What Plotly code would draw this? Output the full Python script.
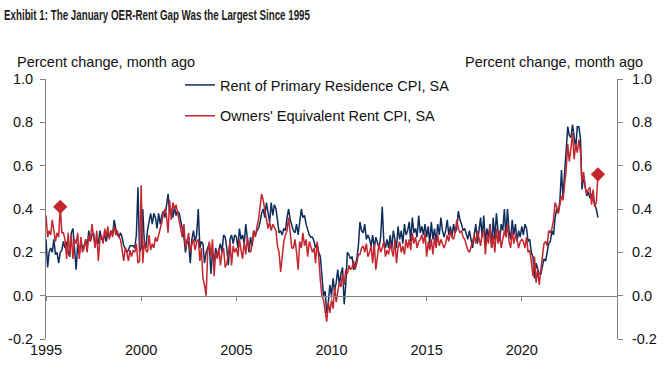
import plotly.graph_objects as go
import pandas as pd

# Monthly % change, Jan 1995 .. Jan 2024
rent = [
    0.26, 0.13, 0.20, 0.22, 0.20, 0.26, 0.19, 0.20, 0.15, 0.20, 0.21, 0.25,  # 1995
    0.22, 0.25, 0.20, 0.18, 0.29, 0.31, 0.22, 0.12, 0.24, 0.19, 0.25, 0.22,  # 1996
    0.23, 0.26, 0.22, 0.30, 0.25, 0.28, 0.29, 0.23, 0.26, 0.24, 0.30, 0.26,  # 1997
    0.26, 0.28, 0.25, 0.29, 0.27, 0.30, 0.28, 0.35, 0.31, 0.28, 0.27, 0.29,  # 1998
    0.27, 0.23, 0.22, 0.20, 0.21, 0.23, 0.23, 0.23, 0.22, 0.28, 0.50, 0.20,  # 1999
    0.22, 0.40, 0.25, 0.22, 0.30, 0.35, 0.38, 0.33, 0.38, 0.36, 0.31, 0.38,  # 2000
    0.33, 0.37, 0.39, 0.36, 0.42, 0.47, 0.38, 0.40, 0.36, 0.41, 0.37, 0.39,  # 2001
    0.38, 0.34, 0.30, 0.27, 0.20, 0.26, 0.24, 0.15, 0.26, 0.30, 0.25, 0.28,  # 2002
    0.40, 0.22, 0.25, 0.24, 0.15, 0.20, 0.22, 0.24, 0.10, 0.20, 0.15, 0.22,  # 2003
    0.18, 0.22, 0.24, 0.20, 0.28, 0.27, 0.22, 0.14, 0.26, 0.28, 0.24, 0.28,  # 2004
    0.27, 0.22, 0.31, 0.26, 0.28, 0.24, 0.33, 0.26, 0.20, 0.27, 0.23, 0.30,  # 2005
    0.28, 0.30, 0.31, 0.34, 0.38, 0.40, 0.36, 0.43, 0.38, 0.34, 0.43, 0.37,  # 2006
    0.42, 0.40, 0.35, 0.29, 0.30, 0.28, 0.31, 0.30, 0.36, 0.40, 0.35, 0.33,  # 2007
    0.30, 0.29, 0.33, 0.28, 0.35, 0.40, 0.36, 0.37, 0.33, 0.30, 0.28, 0.27,  # 2008
    0.27, 0.25, 0.22, 0.24, 0.20, 0.18, 0.08, 0.00, 0.02, -0.08, -0.03, 0.05,  # 2009
    0.00, 0.08, 0.02, 0.06, 0.12, 0.05, 0.10, 0.13, -0.04, 0.05, 0.20, 0.19,  # 2010
    0.17, 0.18, 0.12, 0.14, 0.17, 0.23, 0.34, 0.30, 0.29, 0.33, 0.26, 0.28,  # 2011
    0.26, 0.23, 0.28, 0.22, 0.27, 0.24, 0.22, 0.27, 0.41, 0.25, 0.22, 0.26,  # 2012
    0.22, 0.28, 0.21, 0.30, 0.25, 0.22, 0.32, 0.26, 0.30, 0.24, 0.33, 0.28,  # 2013
    0.30, 0.34, 0.25, 0.36, 0.29, 0.31, 0.27, 0.37, 0.29, 0.32, 0.28, 0.33,  # 2014
    0.27, 0.32, 0.24, 0.34, 0.26, 0.31, 0.24, 0.33, 0.28, 0.36, 0.30, 0.27,  # 2015
    0.30, 0.35, 0.28, 0.32, 0.27, 0.33, 0.29, 0.31, 0.39, 0.35, 0.33, 0.30,  # 2016
    0.31, 0.28, 0.26, 0.30, 0.25, 0.22, 0.28, 0.33, 0.24, 0.30, 0.36, 0.27,  # 2017
    0.37, 0.24, 0.31, 0.27, 0.33, 0.22, 0.36, 0.26, 0.38, 0.30, 0.25, 0.33,  # 2018
    0.30, 0.40, 0.27, 0.40, 0.30, 0.26, 0.35, 0.28, 0.33, 0.25, 0.30, 0.27,  # 2019
    0.32, 0.28, 0.33, 0.31, 0.25, 0.26, 0.20, 0.18, 0.08, 0.15, 0.12, 0.10,  # 2020
    0.10, 0.13, 0.17, 0.16, 0.20, 0.24, 0.25, 0.30, 0.28, 0.36, 0.40, 0.38,  # 2021
    0.44, 0.58, 0.45, 0.56, 0.63, 0.78, 0.74, 0.73, 0.79, 0.73, 0.68, 0.78,  # 2022
    0.78, 0.72, 0.49, 0.55, 0.50, 0.46, 0.48, 0.45, 0.47, 0.44, 0.42, 0.40,  # 2023
    0.36,                                                                    # 2024
]

oer = [
    0.37, 0.27, 0.30, 0.28, 0.35, 0.29, 0.25, 0.29, 0.27, 0.41, 0.29, 0.29,  # 1995
    0.26, 0.17, 0.29, 0.18, 0.28, 0.17, 0.26, 0.24, 0.29, 0.17, 0.27, 0.20,  # 1996
    0.22, 0.26, 0.20, 0.28, 0.25, 0.33, 0.27, 0.22, 0.30, 0.16, 0.26, 0.28,  # 1997
    0.24, 0.31, 0.27, 0.32, 0.26, 0.30, 0.27, 0.32, 0.28, 0.30, 0.27, 0.26,  # 1998
    0.21, 0.16, 0.22, 0.20, 0.16, 0.21, 0.18, 0.21, 0.20, 0.24, 0.15, 0.16,  # 1999
    0.51, 0.15, 0.25, 0.21, 0.20, 0.28, 0.21, 0.24, 0.22, 0.27, 0.25, 0.28,  # 2000
    0.30, 0.34, 0.38, 0.40, 0.37, 0.29, 0.44, 0.35, 0.43, 0.40, 0.42, 0.38,  # 2001
    0.35, 0.30, 0.27, 0.33, 0.22, 0.25, 0.29, 0.20, 0.24, 0.26, 0.21, 0.25,  # 2002
    0.26, 0.16, 0.22, 0.08, 0.05, 0.00, 0.20, 0.25, 0.18, 0.26, 0.09, 0.20,  # 2003
    0.17, 0.22, 0.14, 0.20, 0.22, 0.13, 0.15, 0.19, 0.25, 0.14, 0.23, 0.20,  # 2004
    0.22, 0.18, 0.26, 0.21, 0.17, 0.25, 0.19, 0.27, 0.22, 0.20, 0.24, 0.30,  # 2005
    0.27, 0.32, 0.35, 0.41, 0.47, 0.44, 0.39, 0.34, 0.31, 0.34, 0.30, 0.33,  # 2006
    0.31, 0.30, 0.23, 0.20, 0.11, 0.20, 0.25, 0.28, 0.30, 0.36, 0.30, 0.22,  # 2007
    0.22, 0.26, 0.20, 0.12, 0.25, 0.22, 0.29, 0.23, 0.26, 0.18, 0.25, 0.22,  # 2008
    0.20, 0.22, 0.15, 0.25, 0.18, 0.07, 0.00, -0.02, -0.08, -0.12, -0.03, -0.08,  # 2009
    -0.02, -0.06, 0.04, -0.03, 0.02, 0.06, 0.04, 0.10, 0.05, 0.12, 0.10, 0.14,  # 2010
    0.12, 0.13, 0.16, 0.12, 0.15, 0.19, 0.19, 0.22, 0.23, 0.20, 0.24, 0.18,  # 2011
    0.20, 0.23, 0.15, 0.24, 0.12, 0.19, 0.24, 0.20, 0.22, 0.25, 0.18, 0.21,  # 2012
    0.19, 0.24, 0.21, 0.18, 0.26, 0.15, 0.22, 0.25, 0.20, 0.23, 0.19, 0.26,  # 2013
    0.22, 0.26, 0.21, 0.29, 0.24, 0.27, 0.22, 0.25, 0.26, 0.28, 0.24, 0.29,  # 2014
    0.18, 0.25, 0.21, 0.26, 0.19, 0.27, 0.22, 0.28, 0.23, 0.26, 0.24, 0.22,  # 2015
    0.24, 0.28, 0.25, 0.30, 0.27, 0.26, 0.29, 0.35, 0.31, 0.29, 0.30, 0.27,  # 2016
    0.26, 0.23, 0.21, 0.20, 0.22, 0.25, 0.28, 0.24, 0.30, 0.27, 0.23, 0.29,  # 2017
    0.30, 0.19, 0.28, 0.24, 0.32, 0.22, 0.28, 0.20, 0.31, 0.24, 0.30, 0.22,  # 2018
    0.26, 0.30, 0.27, 0.33, 0.25, 0.22, 0.30, 0.24, 0.28, 0.26, 0.22, 0.25,  # 2019
    0.26, 0.25, 0.22, 0.27, 0.20, 0.21, 0.16, 0.09, 0.18, 0.06, 0.12, 0.05,  # 2020
    0.12, 0.18, 0.24, 0.25, 0.23, 0.30, 0.29, 0.31, 0.35, 0.43, 0.41, 0.38,  # 2021
    0.42, 0.46, 0.44, 0.51, 0.58, 0.70, 0.62, 0.68, 0.75, 0.63, 0.70, 0.66,  # 2022
    0.72, 0.66, 0.52, 0.57, 0.50, 0.47, 0.49, 0.50, 0.42, 0.49, 0.41, 0.43,  # 2023
    0.56,                                                                    # 2024
]

start_month = "1995-01-01"
highlight_months = ["1995-10", "2024-01"]   # OER points marked with diamonds

tick_years = [1995, 2000, 2005, 2010, 2015, 2020]
tick_labels = ["1995", "2000", "2005", "2010", "2015", "2020"]
y_ticks = [-0.2, 0.0, 0.2, 0.4, 0.6, 0.8, 1.0]
y_tick_labels = ["-0.2", "0.0", "0.2", "0.4", "0.6", "0.8", "1.0"]

series_names = ["Rent of Primary Residence CPI, SA", "Owners' Equivalent Rent CPI, SA"]
title_text = "Exhibit 1: The January OER-Rent Gap Was the Largest Since 1995"
axis_title = "Percent change, month ago"

NAVY = "#0E2D5C"
RED = "#C4262E"
AXIS = "#808080"
TXT = "#111111"
FONT = "Liberation Sans, Arial, sans-serif"
FS = 14.5

W, H = 669, 376
L, R, T, B = 46, 617, 79, 339          # plot-area edges in pixels
PW, PH = R - L, B - T

dates = pd.date_range(start_month, periods=len(rent), freq="MS")
month_keys = list(dates.strftime("%Y-%m"))
hl_idx = [month_keys.index(m) for m in highlight_months]

x_range = ["1995-01-01", "2025-01-01"]
x_ticks = [f"{y}-01-01" for y in tick_years]

fig = go.Figure()
fig.add_trace(go.Scatter(x=dates, y=rent, mode="lines", name=series_names[0],
                         line=dict(color=NAVY, width=1.5), legendgroup="a"))
fig.add_trace(go.Scatter(x=dates, y=oer, mode="lines", name=series_names[1],
                         line=dict(color=RED, width=1.5), legendgroup="b"))
fig.add_trace(go.Scatter(x=[dates[i] for i in hl_idx], y=[oer[i] for i in hl_idx],
                         mode="markers", showlegend=False,
                         marker=dict(symbol="diamond", size=11, color=RED),
                         xaxis="x2", yaxis="y2"))

axis_common = dict(showgrid=False, zeroline=False, automargin=False)

fig.update_layout(
    width=W, height=H,
    margin=dict(l=L, r=W - R, t=T, b=H - B, autoexpand=False),
    paper_bgcolor="white", plot_bgcolor="white",
    font=dict(family=FONT, size=FS, color=TXT),
    showlegend=True,
    legend=dict(x=(180 - L) / PW, xanchor="left", y=(B - 69) / PH, yanchor="top",
                bgcolor="rgba(0,0,0,0)", font=dict(size=FS, color=TXT),
                tracegroupgap=9, itemwidth=30),
    title=dict(text=f"<b>{title_text}</b>", x=4 / W, xanchor="left",
               y=1 - 15 / H, yanchor="middle",
               font=dict(family=FONT, size=14.5, color="#222222")),
    xaxis=dict(type="date", range=x_range, tickvals=x_ticks, ticktext=tick_labels,
               showline=False, ticks="", tickfont=dict(size=FS, color=TXT), **axis_common),
    xaxis2=dict(type="date", range=x_range, tickvals=x_ticks, overlaying="x",
                anchor="free", position=1 / 6, showticklabels=False,
                showline=True, linecolor=AXIS, linewidth=1.2,
                ticks="outside", ticklen=4, tickcolor=AXIS, tickwidth=1, **axis_common),
    yaxis=dict(range=[-0.2, 1.0], tickvals=y_ticks, ticktext=y_tick_labels,
               showline=True, linecolor=AXIS, linewidth=1,
               ticks="outside", ticklen=5, tickcolor=AXIS, ticklabelstandoff=4,
               tickfont=dict(size=FS, color=TXT), **axis_common),
    yaxis2=dict(range=[-0.2, 1.0], tickvals=y_ticks, ticktext=y_tick_labels,
                overlaying="y", side="right", anchor="free", position=1,
                showline=True, linecolor=AXIS, linewidth=1,
                ticks="outside", ticklen=5, tickcolor=AXIS, ticklabelstandoff=6,
                tickfont=dict(size=FS, color=TXT), **axis_common),
    annotations=[
        dict(text=axis_title, xref="paper", yref="paper", x=(15 - L) / PW, y=(B - 62) / PH,
             xanchor="left", yanchor="middle", showarrow=False,
             font=dict(size=FS, color=TXT)),
        dict(text=axis_title, xref="paper", yref="paper", x=(645 - L) / PW, y=(B - 62) / PH,
             xanchor="right", yanchor="middle", showarrow=False,
             font=dict(size=FS, color=TXT)),
    ],
)

# Remove the browser's default page margin and fit the condensed title to its width
post = """
document.body.style.margin = '0';
var t = document.querySelector('.gtitle');
if (t) { t.setAttribute('textLength', '306'); t.setAttribute('lengthAdjust', 'spacingAndGlyphs'); }
"""

fig.write_html("out.html", post_script=post, config={"displayModeBar": False})
